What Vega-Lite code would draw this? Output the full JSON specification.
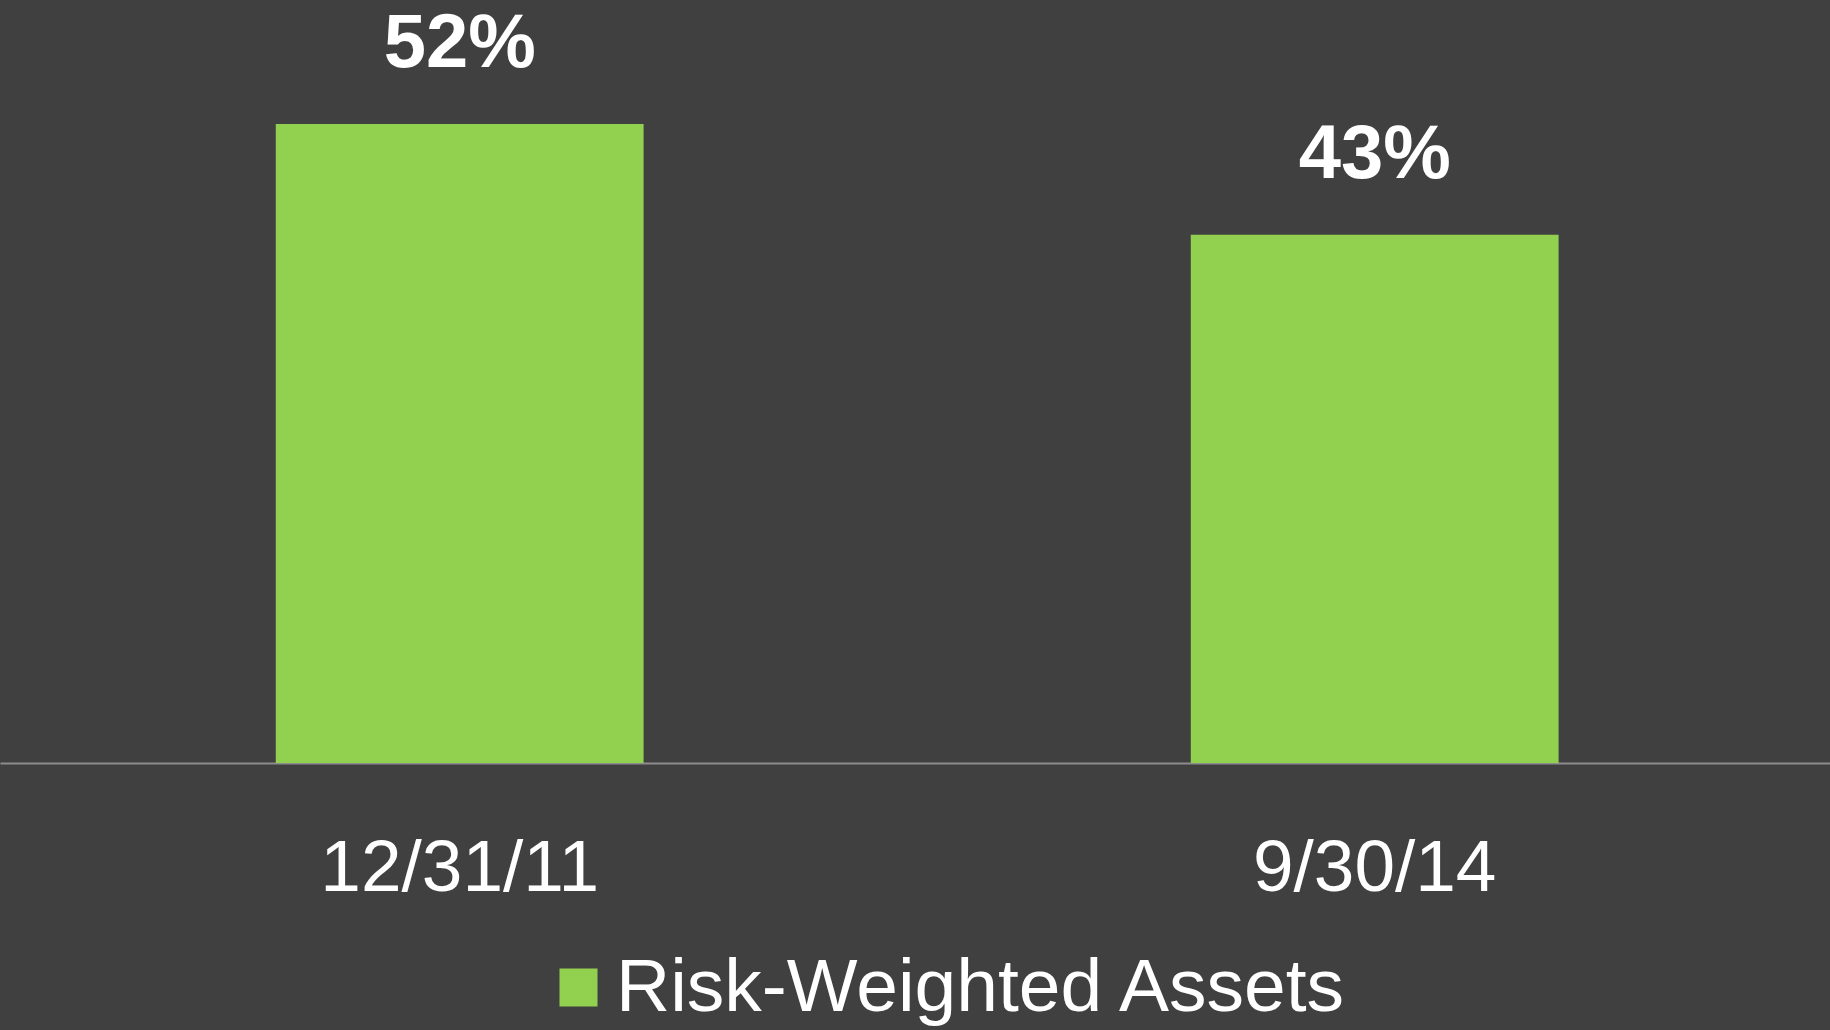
{
  "$schema": "https://vega.github.io/schema/vega-lite/v6.json",
  "width": 1830,
  "height": 763,
  "padding": {"left": 0, "top": 0, "right": 0, "bottom": 267},
  "autosize": {"type": "none"},
  "background": "#404040",
  "config": {
    "view": {"stroke": null},
    "font": "Liberation Sans"
  },
  "data": {
    "values": [
      {"date": "12/31/11", "value": 52, "label": "52%", "series": "Risk-Weighted Assets"},
      {"date": "9/30/14", "value": 43, "label": "43%", "series": "Risk-Weighted Assets"}
    ]
  },
  "encoding": {
    "x": {
      "field": "date",
      "type": "nominal",
      "sort": null,
      "title": null,
      "scale": {"paddingInner": 0.598, "paddingOuter": 0.299, "align": 0.504},
      "axis": {
        "labelAngle": 0,
        "labelFont": "Liberation Sans",
        "labelFontSize": 73,
        "labelColor": "#ffffff",
        "labelBaseline": "alphabetic",
        "labelPadding": 127,
        "labelLimit": 1000,
        "labelOverlap": false,
        "ticks": false,
        "tickSize": 0,
        "domainColor": "#8c8c8c",
        "domainWidth": 2,
        "grid": false
      }
    },
    "y": {
      "field": "value",
      "type": "quantitative",
      "scale": {"domain": [0, 62.1], "nice": false, "zero": true},
      "axis": null
    }
  },
  "layer": [
    {
      "mark": {"type": "bar"},
      "encoding": {
        "color": {
          "field": "series",
          "type": "nominal",
          "scale": {"domain": ["Risk-Weighted Assets"], "range": ["#92D050"]},
          "legend": {
            "title": null,
            "orient": "none",
            "legendX": 541,
            "legendY": 950,
            "symbolType": "square",
            "symbolSize": 1444,
            "symbolStrokeWidth": 0,
            "symbolOpacity": 1,
            "labelFont": "Liberation Sans",
            "labelFontSize": 75,
            "labelColor": "#ffffff",
            "labelOffset": 0,
            "labelLimit": 2000
          }
        }
      }
    },
    {
      "mark": {
        "type": "text",
        "font": "Liberation Sans",
        "fontSize": 76,
        "fontWeight": "bold",
        "color": "#ffffff",
        "baseline": "alphabetic",
        "align": "center",
        "dy": -57
      },
      "encoding": {
        "text": {"field": "label"}
      }
    }
  ]
}
